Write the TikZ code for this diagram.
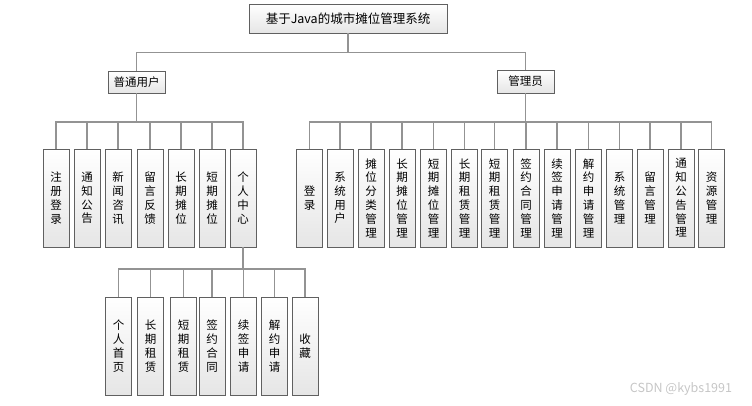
\documentclass[tikz,border=0pt]{standalone}
\usepackage{fontspec}
\setmainfont{Noto Sans CJK SC}
\tikzset{
  box/.style={draw=gray!75!black, line width=0.8pt, top color=white, bottom color=gray!20,
    inner sep=0pt, align=center, font=\fontsize{11.5pt}{13.8pt}\selectfont},
  leaf/.style={box, minimum width=26pt, minimum height=98pt},
  link/.style={draw=gray!85, line width=1.3pt}
}
\begin{document}
\begin{tikzpicture}[x=1pt,y=-1pt]
      \useasboundingbox (0,0) rectangle (752,406);
      \node[box, minimum width=198pt, minimum height=29pt, font=\fontsize{12.5pt}{14pt}\selectfont]
        (root) at (348,18.5) {基于Java的城市摊位管理系统};
      \node[box, minimum width=57pt, minimum height=22pt] (user) at (136.5,82) {普通用户};
      \node[box, minimum width=57pt, minimum height=23pt] (admin) at (525.5,81.5) {管理员};
      % 普通用户
      \draw
        (56,198) node[leaf] (u1){注\\册\\登\\录}
        (87,198) node[leaf] (u2){通\\知\\公\\告}
        (118,198) node[leaf] (u3){新\\闻\\咨\\讯}
        (150,198) node[leaf] (u4){留\\言\\反\\馈}
        (181,198) node[leaf] (u5){长\\期\\摊\\位}
        (212,198) node[leaf] (u6){短\\期\\摊\\位}
        (243,198) node[leaf] (u7){个\\人\\中\\心};
      % 管理员
      \draw
        (309.5,198) node[leaf] (m1){登\\录}
        (340,198) node[leaf] (m2){系\\统\\用\\户}
        (371,198) node[leaf] (m3){摊\\位\\分\\类\\管\\理}
        (402,198) node[leaf] (m4){长\\期\\摊\\位\\管\\理}
        (433.5,198) node[leaf] (m5){短\\期\\摊\\位\\管\\理}
        (464.5,198) node[leaf] (m6){长\\期\\租\\赁\\管\\理}
        (494.5,198) node[leaf] (m7){短\\期\\租\\赁\\管\\理}
        (526,198) node[leaf] (m8){签\\约\\合\\同\\管\\理}
        (557,198) node[leaf] (m9){续\\签\\申\\请\\管\\理}
        (588.5,198) node[leaf] (m10){解\\约\\申\\请\\管\\理}
        (619.5,198) node[leaf] (m11){系\\统\\管\\理}
        (650,198) node[leaf] (m12){留\\言\\管\\理}
        (681,198) node[leaf] (m13){通\\知\\公\\告\\管\\理}
        (711.5,198) node[leaf] (m14){资\\源\\管\\理};
      % 个人中心
      \draw
        (118.5,346) node[leaf] (p1){个\\人\\首\\页}
        (150.5,346) node[leaf] (p2){长\\期\\租\\赁}
        (183.5,346) node[leaf] (p3){短\\期\\租\\赁}
        (212,346) node[leaf] (p4){签\\约\\合\\同}
        (243.5,346) node[leaf] (p5){续\\签\\申\\请}
        (274.5,346) node[leaf] (p6){解\\约\\申\\请}
        (305,346) node[leaf] (p7){收\\藏};
      \coordinate (bus0) at (0,52.5);
      \coordinate (bus1) at (0,122);
      \coordinate (bus2) at (0,269);
      \begin{scope}[link]
        \draw (root.south) -- (root.south |- bus0) -| (user.north);
        \draw (root.south) -- (root.south |- bus0) -| (admin.north);
        \foreach \i in {1,...,7}
          \draw (user.south) -- (user.south |- bus1) -| (u\i.north);
        \foreach \i in {1,...,14}
          \draw (admin.south) -- (admin.south |- bus1) -| (m\i.north);
        \foreach \i in {1,...,7}
          \draw (u7.south) -- (u7.south |- bus2) -| (p\i.north);
      \end{scope}
      \node[text=gray!45, font=\fontsize{12.5pt}{14pt}\selectfont] (mark) at (681,389) {CSDN @kybs1991};
    \end{tikzpicture}
\end{document}
